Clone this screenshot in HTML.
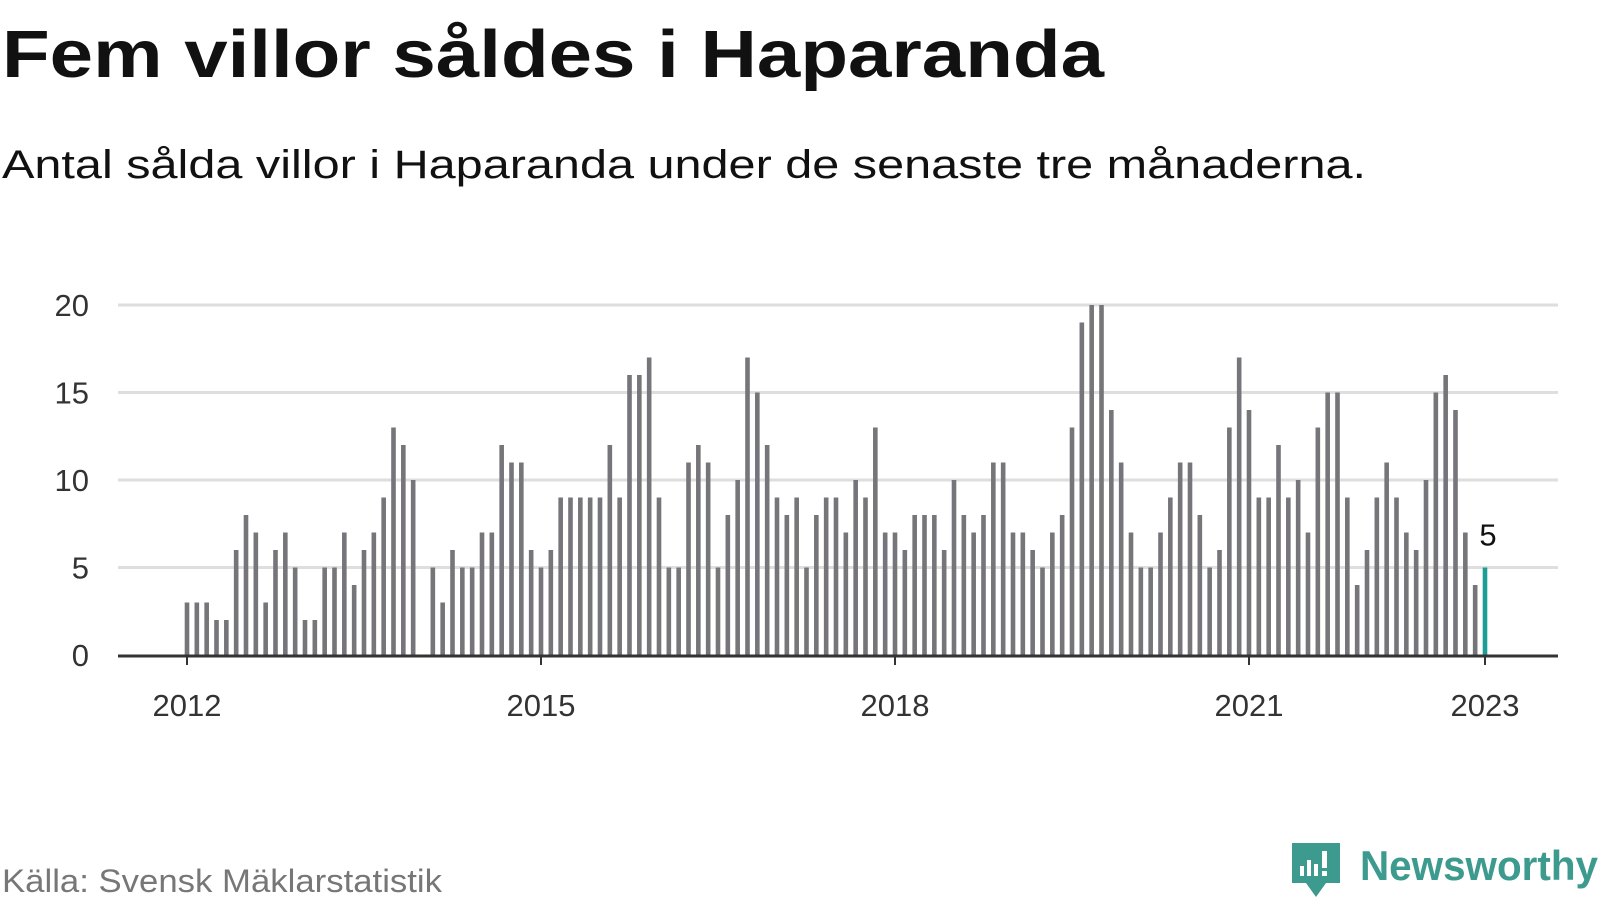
<!DOCTYPE html>
<html><head><meta charset="utf-8"><style>
html,body{margin:0;padding:0;background:#fff;width:1600px;height:900px;overflow:hidden}
svg{display:block;font-family:"Liberation Sans","DejaVu Sans",sans-serif}
</style></head><body>
<svg id="chart" width="1600" height="900" viewBox="0 0 1600 900">
<text x="2" y="77" font-size="67" font-weight="bold" fill="#111" textLength="1102" lengthAdjust="spacingAndGlyphs">Fem villor såldes i Haparanda</text>
<text x="2" y="178" font-size="40" fill="#111" textLength="1364" lengthAdjust="spacingAndGlyphs">Antal sålda villor i Haparanda under de senaste tre månaderna.</text>
<g id="grid"></g>
<g id="bars"></g>
<g id="xaxis"></g>
<text x="2" y="892" font-size="32" fill="#777" textLength="440" lengthAdjust="spacingAndGlyphs">Källa: Svensk Mäklarstatistik</text>
<g>
<path d="M1292 843 h48 v40 h-14 l-10 14 l-10 -14 h-14 z" fill="#3d9a8f"/>
<rect x="1300" y="866" width="4" height="10" fill="#fff"/>
<rect x="1307" y="860" width="4" height="16" fill="#fff"/>
<rect x="1314" y="864" width="4" height="12" fill="#fff"/>
<rect x="1322" y="851" width="5" height="17" fill="#fff"/>
<rect x="1322" y="871" width="5" height="5" fill="#fff"/>
<text x="1360" y="880" font-size="42" font-weight="bold" fill="#3d9a8f" textLength="238" lengthAdjust="spacingAndGlyphs">Newsworthy</text>
</g>
</svg>
<script>
const values = [3,3,3,2,2,6,8,7,3,6,7,5, 2,2,5,5,7,4,6,7,9,13,12,10, 0,5,3,6,5,5,7,7,12,11,11,6, 5,6,9,9,9,9,9,12,9,16,16,17, 9,5,5,11,12,11,5,8,10,17,15,12, 9,8,9,5,8,9,9,7,10,9,13,7, 7,6,8,8,8,6,10,8,7,8,11,11, 7,7,6,5,7,8,13,19,20,20,14,11, 7,5,5,7,9,11,11,8,5,6,13,17, 14,9,9,12,9,10,7,13,15,15,9,4, 6,9,11,9,7,6,10,15,16,14,7,4, 5];
const yTicks = [0,5,10,15,20];
const xTickIdx = [0,36,72,108,132];
const xTickLabels = ["2012","2015","2018","2021","2023"];
const ns="http://www.w3.org/2000/svg";
const x0=187, step=(1249-187)/108, yBase=655, yTop=305;
const xs=i=>x0+i*step;
const ys=v=>yBase-(v/20)*(yBase-yTop);
function mk(tag,attrs,parent){const e=document.createElementNS(ns,tag);for(const k in attrs)e.setAttribute(k,attrs[k]);parent.appendChild(e);return e;}
const grid=document.getElementById('grid');
yTicks.forEach(t=>{
  if(t>0){const l=mk('line',{x1:118,x2:1558,y1:ys(t),y2:ys(t),stroke:'#dedede','stroke-width':3},grid);
  
  }
  const tx=mk('text',{x:89,y:ys(t)+11,'text-anchor':'end','font-size':31,fill:'#333'},grid);
  tx.textContent=t;
  
  
});
const bars=document.getElementById('bars');
values.forEach((v,i)=>{
  if(v<=0)return;
  const last=i===values.length-1;
  const r=mk('rect',{x:xs(i)-2.3,y:ys(v),width:4.6,height:yBase-ys(v),fill:last?'#1a9e96':'#75757a'},bars);
  
  
});
const li=values.length-1;
const lab=mk('text',{x:xs(li)+3,y:ys(values[li])-22,'text-anchor':'middle','font-size':31,fill:'#111'},bars);
lab.textContent=values[li];


const xa=document.getElementById('xaxis');
const ax=mk('line',{x1:118,x2:1558,y1:yBase+1,y2:yBase+1,stroke:'#333','stroke-width':3},xa);


xTickIdx.forEach((idx,k)=>{
  const tk=mk('line',{x1:xs(idx),x2:xs(idx),y1:yBase,y2:yBase+10,stroke:'#333','stroke-width':2},xa);
  
  
  const t=mk('text',{x:xs(idx),y:716,'text-anchor':'middle','font-size':31,fill:'#333'},xa);
  t.textContent=xTickLabels[k];
  
  
});
</script>
</body></html>
